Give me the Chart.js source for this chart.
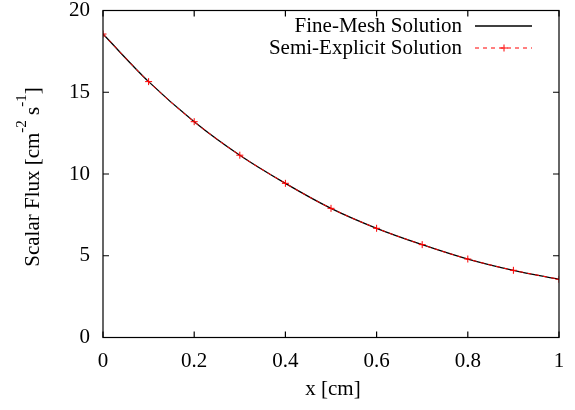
<!DOCTYPE html>
<html>
<head>
<meta charset="utf-8">
<script src="https://cdn.jsdelivr.net/npm/chart.js@4/dist/chart.umd.min.js"></script>
<style>
  html, body { margin: 0; padding: 0; background: #fff; }
  canvas { display: block; }
</style>
</head>
<body>
<canvas id="flux" width="575" height="410"></canvas>
<script>
// x positions [cm] and scalar flux values
const xPos = [0, 0.1, 0.2, 0.3, 0.4, 0.5, 0.6, 0.7, 0.8, 0.9, 1.0];
const fineMesh = [18.56, 15.65, 13.20, 11.15, 9.43, 7.90, 6.68, 5.68, 4.80, 4.11, 3.56];
const semiExplicit = [18.56, 15.65, 13.20, 11.15, 9.43, 7.90, 6.68, 5.68, 4.80, 4.11, 3.56];
const xTicks = [0, 0.2, 0.4, 0.6, 0.8, 1];
const yTicks = [0, 5, 10, 15, 20];

const SERIF = '"Liberation Serif", "DejaVu Serif", serif';
const FONT_SIZE = 21;

const toPoints = (xs, ys) => xs.map((x, i) => ({ x: x, y: ys[i] }));

// box, inward ticks on all four sides, axis titles and legend, gnuplot style
const gnuplotFrame = {
    id: 'gnuplotFrame',
    afterDraw(chart) {
        const ctx = chart.ctx;
        const a = chart.chartArea;
        const sx = chart.scales.x, sy = chart.scales.y;
        const tick = 6;

        ctx.save();
        ctx.strokeStyle = '#000';
        ctx.lineWidth = 1.2;
        ctx.strokeRect(a.left, a.top, a.right - a.left, a.bottom - a.top);

        ctx.beginPath();
        xTicks.forEach(v => {
            const px = sx.getPixelForValue(v);
            ctx.moveTo(px, a.bottom); ctx.lineTo(px, a.bottom - tick);
            ctx.moveTo(px, a.top); ctx.lineTo(px, a.top + tick);
        });
        yTicks.forEach(v => {
            const py = sy.getPixelForValue(v);
            ctx.moveTo(a.left, py); ctx.lineTo(a.left + tick, py);
            ctx.moveTo(a.right, py); ctx.lineTo(a.right - tick, py);
        });
        ctx.stroke();

        const baseFont = FONT_SIZE + 'px ' + SERIF;
        const supFont = '15px ' + SERIF;
        ctx.fillStyle = '#000';

        // x title
        ctx.font = baseFont;
        ctx.textAlign = 'center';
        ctx.textBaseline = 'middle';
        ctx.fillText('x [cm]', 333, 389);

        // y title with superscripts
        const parts = [
            { t: 'Scalar Flux [cm', sup: false },
            { t: '-2', sup: true },
            { t: ' s', sup: false },
            { t: '-1', sup: true },
            { t: ']', sup: false }
        ];
        let total = 0;
        parts.forEach(p => {
            ctx.font = p.sup ? supFont : baseFont;
            p.w = ctx.measureText(p.t).width;
            total += p.w;
        });
        ctx.translate(39, 177);
        ctx.rotate(-Math.PI / 2);
        ctx.textAlign = 'left';
        ctx.textBaseline = 'alphabetic';
        let cx = -total / 2;
        parts.forEach(p => {
            ctx.font = p.sup ? supFont : baseFont;
            ctx.fillText(p.t, cx, p.sup ? -13 : 0);
            cx += p.w;
        });
        ctx.setTransform(1, 0, 0, 1, 0, 0);

        // legend
        const rows = [
            { label: 'Fine-Mesh Solution', ds: chart.data.datasets[1], y: 26 },
            { label: 'Semi-Explicit Solution', ds: chart.data.datasets[0], y: 48 }
        ];
        ctx.font = baseFont;
        ctx.textAlign = 'right';
        ctx.textBaseline = 'middle';
        rows.forEach(r => {
            ctx.fillStyle = '#000';
            ctx.fillText(r.label, 462, r.y);
            ctx.strokeStyle = r.ds.borderColor;
            ctx.lineWidth = r.ds.borderWidth;
            ctx.setLineDash(r.ds.borderDash || []);
            ctx.beginPath();
            ctx.moveTo(475, r.y);
            ctx.lineTo(532, r.y);
            ctx.stroke();
            ctx.setLineDash([]);
            if (r.ds.pointRadius > 0) {
                const m = r.ds.pointRadius;
                ctx.beginPath();
                ctx.moveTo(504 - m, r.y); ctx.lineTo(504 + m, r.y);
                ctx.moveTo(504, r.y - m); ctx.lineTo(504, r.y + m);
                ctx.stroke();
            }
        });
        ctx.restore();
    }
};

new Chart(document.getElementById('flux'), {
    type: 'line',
    data: {
        datasets: [
            {
                label: 'Semi-Explicit Solution',
                data: toPoints(xPos, semiExplicit),
                borderColor: '#ff0000',
                borderWidth: 1,
                borderDash: [4, 4],
                pointStyle: 'cross',
                pointRadius: 3.5,
                pointBorderColor: '#ff0000',
                pointBorderWidth: 1,
                cubicInterpolationMode: 'monotone',
                order: 0
            },
            {
                label: 'Fine-Mesh Solution',
                data: toPoints(xPos, fineMesh),
                borderColor: '#000000',
                borderWidth: 1.3,
                pointRadius: 0,
                cubicInterpolationMode: 'monotone',
                order: 1
            }
        ]
    },
    options: {
        responsive: false,
        animation: false,
        devicePixelRatio: 1,
        layout: { padding: { top: 10.5, right: 16, left: 0, bottom: 0 } },
        plugins: { legend: { display: false }, tooltip: { enabled: false } },
        scales: {
            x: {
                type: 'linear',
                min: 0, max: 1,
                afterBuildTicks: s => { s.ticks = xTicks.map(v => ({ value: v })); },
                afterFit: s => { s.height = 72.5; s.paddingLeft = 0; s.paddingRight = 0; },
                grid: { display: false, drawTicks: false },
                border: { display: false },
                ticks: {
                    padding: 11,
                    maxRotation: 0,
                    color: '#000',
                    font: { family: SERIF, size: FONT_SIZE },
                    callback: v => String(v)
                }
            },
            y: {
                type: 'linear',
                min: 0, max: 20,
                afterBuildTicks: s => { s.ticks = yTicks.map(v => ({ value: v })); },
                afterFit: s => { s.width = 103; s.paddingTop = 0; s.paddingBottom = 0; },
                grid: { display: false, drawTicks: false },
                border: { display: false },
                ticks: {
                    padding: 13,
                    color: '#000',
                    font: { family: SERIF, size: FONT_SIZE },
                    callback: v => String(v)
                }
            }
        }
    },
    plugins: [gnuplotFrame]
});
</script>
</body>
</html>
